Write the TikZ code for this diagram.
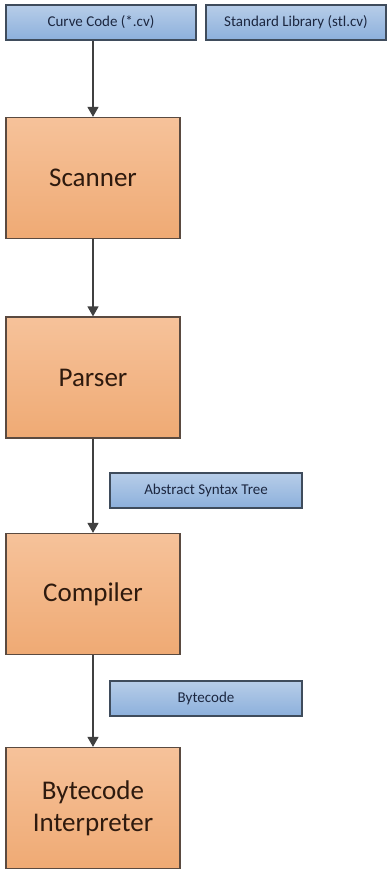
\documentclass[tikz,border=0pt]{standalone}
\usepackage{fontspec}
\setmainfont{Carlito}
\usepackage{tikz}
\usetikzlibrary{arrows.meta}

\definecolor{stageTop}{HTML}{F6C29A}
\definecolor{stageBot}{HTML}{EFAA74}
\definecolor{stageLine}{HTML}{5A4A40}
\definecolor{stageText}{HTML}{2E1A0E}
\definecolor{dataTop}{HTML}{B7CDE8}
\definecolor{dataBot}{HTML}{8CB0DC}
\definecolor{dataLine}{HTML}{3F4C5C}
\definecolor{dataText}{HTML}{1C2740}
\definecolor{flowLine}{HTML}{404040}

\begin{document}
\begin{tikzpicture}[x=1pt,y=-1pt,
  stage/.style={shape=rectangle,draw=stageLine,line width=1.2pt,top color=stageTop,bottom color=stageBot,
    minimum width=174pt,minimum height=121pt,inner sep=0pt,align=center,text=stageText,
    font=\fontsize{27}{32}\selectfont},
  data/.style={shape=rectangle,draw=dataLine,line width=1.2pt,top color=dataTop,bottom color=dataBot,
    minimum height=35pt,inner sep=0pt,text=dataText,font=\fontsize{15}{18}\selectfont},
  flow/.style={draw=flowLine,line width=1.3pt,-{Triangle[width=11pt,length=10pt]}}]
\def\cx{93};

\useasboundingbox (0,0) rectangle (388,870);

\node[data,minimum width=190pt] (src) at (101,22.5) {Curve Code (*.cv)};
\node[data,minimum width=180pt] (stl) at (296,22.5) {Standard Library (stl.cv)};

\node[stage] (scan) at (\cx,178) {Scanner};
\draw[flow] (scan.north |- src.south) -- (scan.north);
\node[stage] (parse) at (\cx,377.5) {Parser};
\draw[flow] (scan.south) -- (parse.north);

\node[data,minimum width=192pt] (ast) at (206,490.5) {Abstract Syntax Tree};
\node[stage] (comp) at (\cx,594) {Compiler};
\draw[flow] (parse.south) -- (comp.north);

\node[data,minimum width=192pt] (bc) at (206,698.5) {Bytecode};
\node[stage] (interp) at (\cx,808) {Bytecode\\Interpreter};
\draw[flow] (comp.south) -- (interp.north);

\end{tikzpicture}
\end{document}
